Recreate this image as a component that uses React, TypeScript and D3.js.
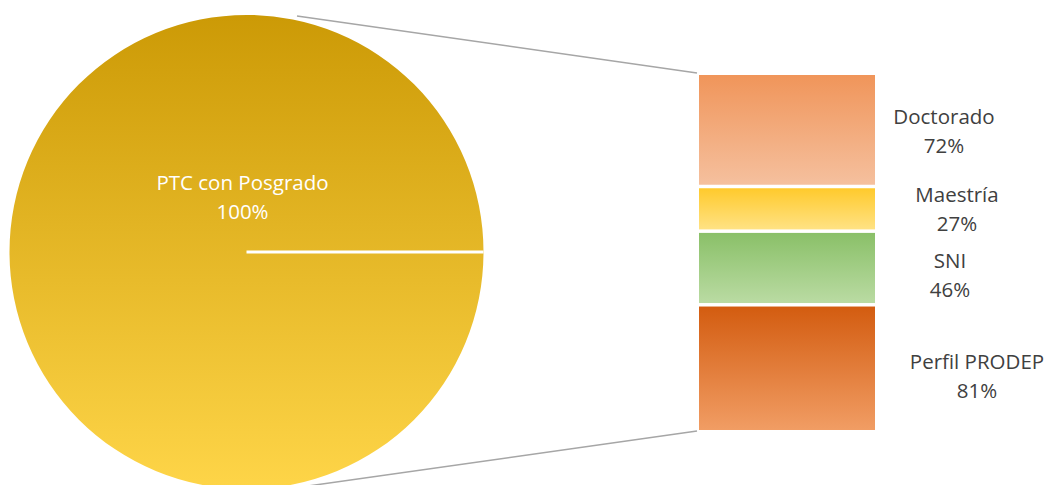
import React from "react";
import * as d3 from "d3";

const pieCategory = "PTC con Posgrado";
const pieValue = 100;
const barCategories = ["Doctorado", "Maestría", "SNI", "Perfil PRODEP"];
const barValues = [72, 27, 46, 81];

const W = 1045;
const H = 485;

export default function App() {
  const cx = 246.5, cy = 252, r = 237;
  const arc = d3.arc<any>().innerRadius(0).outerRadius(r);
  const pie = d3.pie<number>().sort(null).startAngle(Math.PI / 2).endAngle(Math.PI / 2 + 2 * Math.PI);
  const slices = pie([pieValue]);

  const barX0 = 699, barX1 = 875, barTop = 75, barBottom = 430, gap = 3.5;
  const total = d3.sum(barValues);
  const y = d3.scaleLinear().domain([0, total]).range([barTop, barBottom - gap * (barValues.length - 1)]);
  let cum = 0;
  const segs = barValues.map((v, i) => {
    const y0 = y(cum) + i * gap;
    cum += v;
    const y1 = y(cum) + i * gap;
    return { v, y0, y1, name: barCategories[i] };
  });
  const grads = [
    ["#F0955A", "#F5C09E"],
    ["#FFCA2C", "#FFE284"],
    ["#8AC068", "#BADBA3"],
    ["#D35C10", "#F19D64"],
  ];
  const labelX = [944, 957, 950, 977];
  const labelDy = [-6, -7, 0, 1];
  const fs = 20.5;

  return (
    <svg width={W} height={H} style={{ position: "absolute", left: 0, top: 0 }} fontFamily="'Open Sans', 'Noto Sans', sans-serif">
      <defs>
        <linearGradient id="pieg" gradientUnits="userSpaceOnUse" x1="0" y1={-r} x2="0" y2={r}>
          <stop offset="0" stopColor="#CC9A06" />
          <stop offset="1" stopColor="#FED548" />
        </linearGradient>
        {grads.map((g, i) => (
          <linearGradient key={i} id={`bg${i}`} x1="0" y1="0" x2="0" y2="1">
            <stop offset="0" stopColor={g[0]} />
            <stop offset="1" stopColor={g[1]} />
          </linearGradient>
        ))}
      </defs>
      <rect width={W} height={H} fill="#fff" />
      <line x1={297} y1={16} x2={barX0 - 2} y2={barTop - 2} stroke="#A6A6A6" strokeWidth={1.5} />
      <line x1={308} y1={486} x2={barX0 - 2} y2={barBottom + 1} stroke="#A6A6A6" strokeWidth={1.5} />
      <g transform={`translate(${cx},${cy})`}>
        {slices.map((s, i) => (
          <path key={i} d={arc(s) as string} fill="url(#pieg)" />
        ))}
        <line x1={0} y1={0} x2={r} y2={0} stroke="#fff" strokeWidth={3} />
        <text x={-4} y={-62} textAnchor="middle" fill="#fff" fontSize={fs}>{pieCategory}</text>
        <text x={-4} y={-33} textAnchor="middle" fill="#fff" fontSize={fs}>{pieValue}%</text>
      </g>
      {segs.map((s, i) => (
        <g key={i}>
          <rect x={barX0} y={s.y0} width={barX1 - barX0} height={s.y1 - s.y0} fill={`url(#bg${i})`} />
          <text x={labelX[i]} y={(s.y0 + s.y1) / 2 + labelDy[i]} textAnchor="middle" fill="#404040" fontSize={fs}>{s.name}</text>
          <text x={labelX[i]} y={(s.y0 + s.y1) / 2 + labelDy[i] + 29} textAnchor="middle" fill="#404040" fontSize={fs}>{s.v}%</text>
        </g>
      ))}
    </svg>
  );
}
